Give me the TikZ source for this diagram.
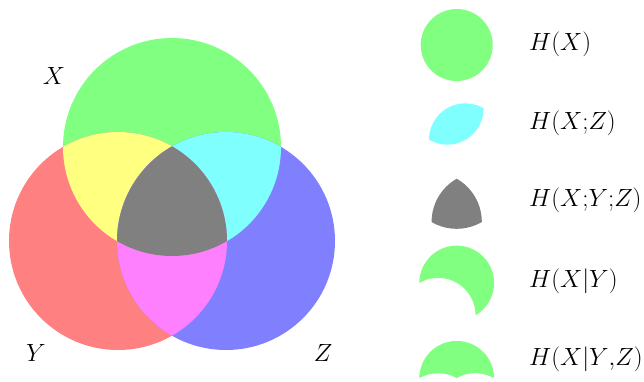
\documentclass[tikz,border=0pt]{standalone}
\usepackage{xcolor}
\usepackage{amsmath}
\usepackage{tikz}
\definecolor{vgreen}{RGB}{128,255,128}
\definecolor{vred}{RGB}{255,128,128}
\definecolor{vblue}{RGB}{128,128,255}
\definecolor{vyellow}{RGB}{255,255,128}
\definecolor{vcyan}{RGB}{128,255,255}
\definecolor{vmagenta}{RGB}{255,128,255}
\definecolor{vgray}{RGB}{128,128,128}
\tikzset{
  % a set label next to its circle
  lbl/.style = {font=\Huge, inner sep=0pt},
  % a legend entry
  key/.style = {lbl, anchor=west},
}
% the three sets, centres on an equilateral triangle of side = radius
\newcommand{\cX}{(172,147) circle (109)}
\newcommand{\cY}{(118,241) circle (109)}
\newcommand{\cZ}{(226,241) circle (109)}
\newcommand{\bigbox}{(-200,-200) rectangle (500,500)}

\begin{document}
\begin{tikzpicture}[x=1pt, y=-1pt]
  \useasboundingbox (0,0) rectangle (644,381);
  \fill[vgreen] \cX;
  \fill[vred]   \cY;
  \fill[vblue]  \cZ;
  \begin{scope}
    \clip \cX;
    \fill[vyellow] \cY;
    \fill[vcyan]   \cZ;
  \end{scope}
  \begin{scope}
    \clip \cY;
    \fill[vmagenta] \cZ;
    \clip \cX;
    \fill[vgray] \cZ;
  \end{scope}
  \node[lbl] (lx) at (54,76)   {$X$};
  \node[lbl] (ly) at (36,353)  {$Y$};
  \node[lbl] (lz) at (323,353) {$Z$};
  % legend icons, cut from the same circles
  \fill[vgreen] (456.7,45) circle (36);
  \begin{scope}[shift={(456.5,124)}, scale=0.333, shift={(-199.5,-194)}]
    \clip \cX;
    \fill[vcyan] \cZ;
  \end{scope}
  \begin{scope}[shift={(456.7,179)}, scale=0.457, shift={(-172,-147)}]
    \clip \cX;
    \clip \cY;
    \fill[vgray] \cZ;
  \end{scope}
  \begin{scope}[shift={(456.7,283)}, scale=0.343, shift={(-172,-147)},
                even odd rule]
    \clip \bigbox \cY;
    \fill[vgreen] \cX;
  \end{scope}
  \begin{scope}[shift={(456.7,378.3)}, scale=0.343, shift={(-172,-147)},
                even odd rule]
    \clip \bigbox \cY;
    \clip \bigbox \cZ;
    \fill[vgreen] \cX;
  \end{scope}
  \node[key] (kx)    at (529,44)  {$H(X)$};
  \node[key] (kxz)   at (529,123) {$H(X{;}Z)$};
  \node[key] (kxyz)  at (529,200) {$H(X{;}Y{;}Z)$};
  \node[key] (kxgy)  at (529,281) {$H(X|Y)$};
  \node[key] (kxgyz) at (529,359) {$H(X|Y{,}Z)$};
\end{tikzpicture}
\end{document}
